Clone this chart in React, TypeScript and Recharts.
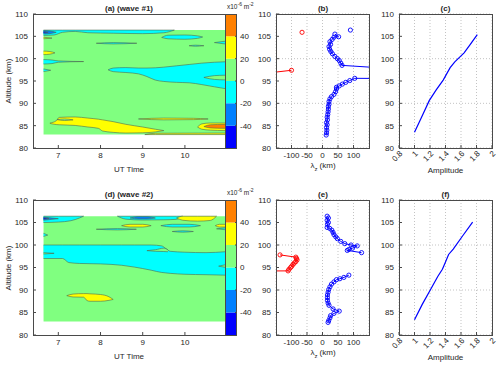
import React from "react";
import {
  Area,
  CartesianGrid,
  ComposedChart,
  Scatter,
  ScatterChart,
  XAxis,
  YAxis,
} from "recharts";

const FONT = "'Liberation Sans', Arial, Helvetica, sans-serif";

// axis ticks
const ALT_TICKS = [80, 85, 90, 95, 100, 105, 110];
const UT_TICKS = [7, 8, 9, 10];
const LAMBDA_TICKS = [-100, -50, 0, 50, 100];
const AMP_TICKS = [0.8, 1, 1.2, 1.4, 1.6, 1.8, 2];
const CBAR_LEVELS = [-60, -40, -20, 0, 20, 40, 60];
const CBAR_TICKS = [-40, -20, 0, 20, 40];

// jet(6) contour levels
const LEVEL_COLORS = ["#0000ff", "#0080ff", "#00ffff", "#80ff80", "#ffff00", "#ff8000"];
const CONTOUR_LINE = "#4f6a4f";

// contour regions, rows are [UT, lower alt, upper alt]
const DATA_BOX = [
  [6.65, 83, 106.4],
  [10.95, 83, 106.4],
];

// ---- wave #1
const A_CYAN_TOP = [
  [6.65, 105.2, 106.4],
  [6.9, 105.3, 106.4],
  [7.1, 105.9, 106.4],
  [7.4, 106.1, 106.4],
  [7.7, 105.8, 106.4],
  [8.3, 105.7, 106.4],
  [9.0, 105.6, 106.4],
  [9.5, 105.8, 106.4],
  [9.75, 106.4, 106.4],
];
const A_BLUE_TOP = [
  [6.65, 105.5, 106.3],
  [6.8, 105.6, 106.2],
  [6.95, 105.9, 105.9],
];
const A_DBLUE_TOP = [
  [6.65, 105.75, 106.1],
  [6.76, 105.92, 105.92],
];
const A_YEL_104 = [
  [6.65, 104.45, 104.8],
  [6.85, 104.6, 104.6],
];
const A_CYAN_105R = [
  [9.45, 104.75, 104.75],
  [9.6, 104.45, 105.25],
  [10.0, 104.35, 105.3],
  [10.3, 104.55, 105.1],
  [10.42, 104.85, 104.85],
];
const A_CYAN_103 = [
  [7.9, 103.45, 103.45],
  [8.3, 103.3, 103.6],
  [8.86, 103.45, 103.45],
];
const A_CYAN_102 = [
  [10.1, 102.9, 102.9],
  [10.25, 102.78, 103.02],
  [10.45, 102.9, 102.9],
];
const A_CYAN_EDGE = [
  [10.7, 103.6, 103.6],
  [10.95, 103.3, 103.9],
];
const A_YEL_101 = [
  [6.65, 100.9, 101.7],
  [6.8, 101.0, 101.6],
  [6.92, 101.3, 101.3],
];
const A_CYAN_99 = [
  [6.65, 98.8, 99.8],
  [6.85, 98.9, 99.7],
  [7.0, 99.2, 99.5],
  [7.6, 99.35, 99.35],
];
const A_CYAN_97 = [
  [6.65, 97.1, 97.7],
  [6.82, 97.4, 97.4],
];
const A_CYAN_BIG = [
  [8.18, 97.5, 97.5],
  [8.3, 97.1, 97.9],
  [8.6, 96.9, 98.0],
  [8.9, 96.6, 97.9],
  [9.1, 96.0, 97.9],
  [9.3, 95.2, 97.95],
  [9.5, 94.9, 98.1],
  [9.8, 94.7, 98.4],
  [10.1, 94.6, 98.7],
  [10.4, 94.2, 99.0],
  [10.7, 93.7, 99.2],
  [10.95, 93.3, 99.3],
];
const A_GREEN_96 = [
  [10.45, 95.8, 95.8],
  [10.7, 95.35, 96.2],
  [10.95, 95.25, 96.3],
];
const A_YEL_MAIN = [
  [6.8, 85.5, 85.6],
  [6.95, 85.25, 86.1],
  [7.02, 85.2, 86.85],
  [7.4, 85.05, 86.95],
  [7.7, 84.7, 86.7],
  [7.95, 84.4, 86.45],
  [8.05, 83.8, 86.3],
  [8.3, 83.5, 85.9],
  [8.6, 83.35, 85.3],
  [9.0, 83.4, 84.7],
  [9.3, 83.6, 84.2],
  [9.5, 83.9, 83.9],
];
const A_GREEN_NOTCH = [
  [6.97, 86.35, 86.35],
  [7.15, 86.15, 86.5],
  [7.35, 86.3, 86.3],
];
const A_YEL_STRIP = [
  [9.05, 83.0, 83.0],
  [9.3, 83.0, 83.3],
  [10.95, 83.0, 83.35],
];
const A_YEL_86 = [
  [8.9, 86.5, 86.5],
  [9.5, 86.3, 86.7],
  [10.2, 86.35, 86.65],
  [10.55, 86.5, 86.5],
];
const A_YEL_85R = [
  [10.3, 84.7, 84.7],
  [10.4, 84.2, 85.4],
  [10.6, 84.0, 85.6],
  [10.95, 83.9, 85.6],
];
const A_ORANGE = [
  [10.45, 84.8, 84.8],
  [10.6, 84.5, 85.2],
  [10.95, 84.4, 85.3],
];

// ---- wave #2
const D_CYAN_TOPL = [
  [6.65, 105.0, 106.4],
  [7.0, 105.1, 106.4],
  [7.3, 105.4, 106.4],
  [7.5, 106.0, 106.4],
  [7.6, 106.4, 106.4],
];
const D_BLUE_TOPL = [
  [6.65, 105.5, 106.2],
  [6.85, 105.7, 106.0],
  [7.0, 105.85, 105.85],
];
const D_DBLUE_TOPL = [
  [6.65, 105.7, 106.05],
  [6.78, 105.88, 105.88],
];
const D_CYAN_TOPM = [
  [8.4, 106.4, 106.4],
  [8.6, 105.75, 106.4],
  [9.0, 105.55, 106.4],
  [9.5, 105.6, 106.4],
  [9.8, 105.7, 106.4],
  [9.95, 106.4, 106.4],
];
const D_BLUE_TOPM = [
  [8.7, 106.0, 106.0],
  [8.9, 105.8, 106.3],
  [9.1, 105.8, 106.3],
  [9.3, 106.0, 106.0],
];
const D_YEL_TOPR = [
  [9.8, 106.0, 106.0],
  [9.95, 105.5, 106.4],
  [10.3, 105.3, 106.4],
  [10.6, 105.45, 106.4],
  [10.75, 106.4, 106.4],
];
const D_YEL_104 = [
  [8.5, 104.3, 104.3],
  [8.7, 104.0, 104.6],
  [9.0, 104.0, 104.6],
  [9.2, 104.3, 104.3],
];
const D_CYAN_103 = [
  [7.9, 103.5, 103.5],
  [8.4, 103.35, 103.65],
  [8.85, 103.5, 103.5],
];
const D_CYAN_104R = [
  [9.43, 104.3, 104.3],
  [9.7, 104.0, 104.6],
  [10.1, 104.0, 104.6],
  [10.37, 104.3, 104.3],
];
const D_CYAN_102R = [
  [9.7, 103.0, 103.0],
  [9.95, 102.85, 103.15],
  [10.2, 103.0, 103.0],
];
const D_YEL_EDGE = [
  [10.72, 104.3, 104.3],
  [10.82, 104.0, 104.6],
  [10.95, 104.0, 104.6],
];
const D_CYAN_EDGE = [
  [10.75, 103.6, 103.6],
  [10.95, 103.4, 103.8],
];
const D_CYAN_102L = [
  [6.65, 101.9, 102.6],
  [6.75, 102.2, 102.2],
];
const D_CYAN_BIG = [
  [6.65, 97.0, 100.0],
  [7.1, 97.0, 100.0],
  [7.25, 96.1, 100.0],
  [7.5, 95.9, 100.0],
  [8.0, 95.8, 100.0],
  [8.5, 95.5, 100.0],
  [8.8, 95.1, 100.0],
  [9.2, 94.4, 100.0],
  [9.45, 93.9, 99.8],
  [9.55, 93.8, 99.2],
  [9.65, 93.7, 98.6],
  [10.0, 93.5, 98.4],
  [10.5, 93.4, 98.3],
  [10.95, 93.3, 98.5],
];
const D_GREEN_TONGUE = [
  [9.1, 98.75, 98.75],
  [9.3, 98.6, 98.95],
  [9.5, 98.55, 99.3],
  [9.6, 98.5, 98.9],
];
const D_GREEN_98 = [
  [6.65, 98.0, 98.3],
  [6.9, 98.15, 98.15],
];
const D_GREEN_95 = [
  [10.8, 95.3, 95.3],
  [10.95, 95.05, 95.6],
];
const D_YEL_89 = [
  [7.2, 88.75, 88.75],
  [7.35, 88.45, 89.1],
  [7.6, 88.4, 89.2],
  [7.68, 87.65, 89.2],
  [7.75, 87.5, 89.15],
  [8.0, 87.5, 89.0],
  [8.2, 87.7, 88.5],
  [8.3, 87.9, 87.9],
];

// [region, level index]
const WAVE1_LAYERS: [number[][], number][] = [
  [DATA_BOX, 3],
  [A_CYAN_TOP, 2],
  [A_BLUE_TOP, 1],
  [A_DBLUE_TOP, 0],
  [A_YEL_104, 4],
  [A_CYAN_105R, 2],
  [A_CYAN_103, 2],
  [A_CYAN_102, 2],
  [A_CYAN_EDGE, 2],
  [A_YEL_101, 4],
  [A_CYAN_99, 2],
  [A_CYAN_97, 2],
  [A_CYAN_BIG, 2],
  [A_GREEN_96, 3],
  [A_YEL_MAIN, 4],
  [A_GREEN_NOTCH, 3],
  [A_YEL_STRIP, 4],
  [A_YEL_86, 4],
  [A_YEL_85R, 4],
  [A_ORANGE, 5],
];

const WAVE2_LAYERS: [number[][], number][] = [
  [DATA_BOX, 3],
  [D_CYAN_TOPL, 2],
  [D_BLUE_TOPL, 1],
  [D_DBLUE_TOPL, 0],
  [D_CYAN_TOPM, 2],
  [D_BLUE_TOPM, 1],
  [D_YEL_TOPR, 4],
  [D_YEL_104, 4],
  [D_CYAN_103, 2],
  [D_CYAN_104R, 2],
  [D_CYAN_102R, 2],
  [D_YEL_EDGE, 4],
  [D_CYAN_EDGE, 2],
  [D_CYAN_102L, 2],
  [D_CYAN_BIG, 2],
  [D_GREEN_TONGUE, 3],
  [D_GREEN_98, 3],
  [D_GREEN_95, 3],
  [D_YEL_89, 4],
];

// vertical wavelength profiles, rows are [lambda_z km, alt km]
const B_RED_DOT = [[-66, 105.9]];
const B_RED_LINE = [
  [-200, 96.6],
  [-100, 97.4],
];
const B_BLUE_DOT = [[90, 106.4]];
const B_BLUE_UPPER = [
  [40, 105.5], [52, 104.9], [37, 104.8], [31, 104.3], [24, 103.8], [26, 103.2],
  [21, 102.7], [23, 102.1], [27, 101.6], [32, 101.1], [40, 100.5], [48, 100.0],
  [54, 99.6], [59, 99.0], [63, 98.5], [400, 97.0],
];
const B_BLUE_LOWER = [
  [400, 95.5], [104, 95.6], [88, 95.1], [75, 94.7], [64, 94.3], [54, 93.9],
  [45, 93.6], [45, 93.2], [42, 92.6], [37, 92.0], [29, 91.5], [24, 91.0],
  [21, 90.4], [21, 89.8], [19, 89.3], [19, 88.7], [18, 88.1], [17, 87.5],
  [15, 86.9], [16, 86.3], [13, 85.7], [15, 85.2], [13, 84.6], [14, 84.0],
  [13, 83.4], [12, 82.9],
];

const E_RED_LINE = [
  [-137, 97.8], [-86, 97.3], [-84, 97.0], [-82, 96.7], [-86, 96.3], [-91, 96.0],
  [-95, 95.7], [-99, 95.3], [-103, 95.0], [-108, 94.6], [-111, 94.25], [-300, 94.2],
];
const E_BLUE_UPPER = [
  [15, 106.4], [19, 106.0], [15, 105.5], [19, 105.0], [16, 104.6], [15, 103.9],
  [23, 103.7], [30, 103.3], [34, 102.8], [37, 102.3], [43, 101.8], [48, 101.4],
  [59, 100.8], [72, 100.3], [92, 100.0], [112, 99.8], [97, 99.3], [85, 99.0],
  [80, 98.8], [126, 98.3],
];
const E_BLUE_LOWER = [
  [85, 93.3], [69, 92.8], [56, 92.5], [45, 92.3], [37, 91.8], [29, 91.3],
  [24, 90.7], [20, 90.1], [18, 89.5], [16, 88.9], [16, 88.3], [16, 87.7],
  [18, 87.1], [21, 86.6], [34, 85.8], [54, 85.3], [37, 84.8], [26, 84.3],
  [24, 83.8], [20, 83.2], [18, 82.8],
];

// amplitude profiles, rows are [amplitude, alt km]
const C_AMP = [
  [1.0, 83.5], [1.1, 87.2], [1.19, 90.6], [1.28, 93.0], [1.37, 95.2],
  [1.46, 98.0], [1.52, 99.3], [1.64, 101.3], [1.72, 103.2], [1.81, 105.4],
];
const F_AMP = [
  [1.0, 83.4], [1.1, 86.8], [1.2, 89.9], [1.3, 93.0], [1.36, 94.6],
  [1.4, 96.2], [1.44, 97.9], [1.5, 99.1], [1.62, 102.0], [1.75, 105.1],
];

const TICK = { fontSize: 8, fill: "#262626", fontFamily: FONT };
const FRAME = "#4a4a4a";
const GRID = "#b4b4b4";

const ROWS = [
  { y: 14, h: 134 },
  { y: 200, h: 135 },
];

const toXY = (rows: number[][]) => rows.map(([x, y]) => ({ x, y }));

function Txt({ x, y, children, bold, rot, size = 8 }: any) {
  return (
    <div
      style={{
        position: "absolute",
        left: x,
        top: y,
        transform: `translate(-50%, -50%)${rot ? ` rotate(${rot}deg)` : ""}`,
        fontFamily: FONT,
        fontSize: size,
        fontWeight: bold ? 700 : 400,
        color: "#262626",
        whiteSpace: "nowrap",
        lineHeight: 1,
      }}
    >
      {children}
    </div>
  );
}

function Box({ x, y, w, h }: any) {
  return (
    <div
      style={{
        position: "absolute",
        left: x,
        top: y,
        width: w,
        height: h,
        border: `1px solid ${FRAME}`,
        boxSizing: "border-box",
        pointerEvents: "none",
      }}
    />
  );
}

function ContourPanel({ row, layers }: any) {
  const { y, h } = row;
  return (
    <div style={{ position: "absolute", left: 0, top: y - 14 }}>
      <ComposedChart
        width={225}
        height={14 + h + 30}
        margin={{ top: 14, right: 0, bottom: 0, left: 0 }}
      >
        <XAxis
          type="number"
          dataKey="t"
          domain={[6.4, 10.95]}
          ticks={UT_TICKS}
          allowDataOverflow
          height={30}
          axisLine={false}
          tickSize={-3}
          tickMargin={7}
          stroke={FRAME}
          tick={TICK}
        />
        <YAxis
          type="number"
          domain={[80, 110]}
          ticks={ALT_TICKS}
          allowDataOverflow
          width={33}
          axisLine={false}
          tickSize={-3}
          tickMargin={8}
          stroke={FRAME}
          tick={TICK}
        />
        {layers.map(([region, lvl]: [number[][], number], i: number) => (
          <Area
            key={i}
            data={region.map(([t, lo, hi]) => ({ t, r: [lo, hi] }))}
            dataKey="r"
            type="monotone"
            fill={LEVEL_COLORS[lvl]}
            fillOpacity={1}
            stroke={i === 0 ? "none" : CONTOUR_LINE}
            strokeWidth={0.6}
            dot={false}
            activeDot={false}
            isAnimationActive={false}
          />
        ))}
      </ComposedChart>
    </div>
  );
}

function ColorBar({ row }: any) {
  const { y, h } = row;
  return (
    <div style={{ position: "absolute", left: 226, top: y - 14 }}>
      <ComposedChart
        width={41}
        height={14 + h + 30}
        margin={{ top: 14, right: 0, bottom: 30, left: 0 }}
      >
        <XAxis type="number" dataKey="x" domain={[0, 1]} hide />
        <YAxis
          type="number"
          orientation="right"
          domain={[-60, 60]}
          ticks={CBAR_TICKS}
          allowDataOverflow
          width={30}
          axisLine={false}
          tickSize={-2}
          tickMargin={5}
          stroke={FRAME}
          tick={TICK}
        />
        {LEVEL_COLORS.map((c, i) => (
          <Area
            key={i}
            data={[
              { x: 0, r: [CBAR_LEVELS[i], CBAR_LEVELS[i + 1]] },
              { x: 1, r: [CBAR_LEVELS[i], CBAR_LEVELS[i + 1]] },
            ]}
            dataKey="r"
            type="linear"
            fill={c}
            fillOpacity={1}
            stroke="none"
            dot={false}
            activeDot={false}
            isAnimationActive={false}
          />
        ))}
      </ComposedChart>
    </div>
  );
}

const openCircle = (color: string) => (p: any) =>
  (
    <circle
      cx={p.cx}
      cy={p.cy}
      r={2.1}
      fill="none"
      stroke={color}
      strokeWidth={0.9}
    />
  );
const noMark = () => <g />;

function ProfilePanel({ row, left, xDomain, xTicks, rotate, series }: any) {
  const { y, h } = row;
  return (
    <div style={{ position: "absolute", left: left - 30, top: y - 14 }}>
      <ScatterChart
        width={30 + 93 + 8}
        height={14 + h + 30}
        margin={{ top: 14, right: 8, bottom: 0, left: 0 }}
      >
        <CartesianGrid stroke={GRID} strokeDasharray="1 2" strokeWidth={0.8} />
        <XAxis
          type="number"
          dataKey="x"
          domain={xDomain}
          ticks={xTicks}
          allowDataOverflow
          height={30}
          axisLine={false}
          tickSize={-3}
          tickMargin={rotate ? 5 : 7}
          stroke={FRAME}
          angle={rotate ? -45 : 0}
          tick={rotate ? { ...TICK, textAnchor: "end" } : TICK}
          interval={0}
        />
        <YAxis
          type="number"
          dataKey="y"
          domain={[80, 110]}
          ticks={ALT_TICKS}
          allowDataOverflow
          width={30}
          axisLine={false}
          tickSize={-3}
          tickMargin={8}
          stroke={FRAME}
          tick={TICK}
        />
        {series.map((s: any, i: number) => (
          <Scatter
            key={i}
            data={toXY(s.data)}
            fill={s.color}
            line={s.line ? { stroke: s.color, strokeWidth: s.marks ? 1 : 1.2 } : false}
            lineType="joint"
            shape={s.marks ? openCircle(s.color) : noMark}
            isAnimationActive={false}
          />
        ))}
      </ScatterChart>
    </div>
  );
}

const RED = "#ff0000";
const BLUE = "#0000ff";

export default function App() {
  const lambdaLabel = (
    <span>
      λ<sub style={{ fontSize: 6 }}>z</sub> (km)
    </span>
  );
  const units = (
    <span>
      x10<sup style={{ fontSize: 5 }}>-6</sup> m<sup style={{ fontSize: 5 }}>-2</sup>
    </span>
  );
  return (
    <div
      style={{
        position: "absolute",
        left: 0,
        top: 0,
        width: 500,
        height: 366,
        background: "#fff",
        overflow: "hidden",
      }}
    >
      {ROWS.map((row, k) => (
        <React.Fragment key={k}>
          <ContourPanel row={row} layers={k === 0 ? WAVE1_LAYERS : WAVE2_LAYERS} />
          <ColorBar row={row} />
          <ProfilePanel
            row={row}
            left={276}
            xDomain={[-150, 150]}
            xTicks={LAMBDA_TICKS}
            series={
              k === 0
                ? [
                    { data: B_RED_DOT, color: RED, marks: true },
                    { data: B_RED_LINE, color: RED, marks: true, line: true },
                    { data: B_BLUE_DOT, color: BLUE, marks: true },
                    { data: B_BLUE_UPPER, color: BLUE, marks: true, line: true },
                    { data: B_BLUE_LOWER, color: BLUE, marks: true, line: true },
                  ]
                : [
                    { data: E_RED_LINE, color: RED, marks: true, line: true },
                    { data: E_BLUE_UPPER, color: BLUE, marks: true, line: true },
                    { data: E_BLUE_LOWER, color: BLUE, marks: true, line: true },
                  ]
            }
          />
          <ProfilePanel
            row={row}
            left={399}
            xDomain={[0.8, 2]}
            xTicks={AMP_TICKS}
            rotate
            series={[{ data: k === 0 ? C_AMP : F_AMP, color: BLUE, line: true }]}
          />
          <Box x={33} y={row.y} w={193} h={row.h + 1} />
          <Box x={225} y={row.y} w={12} h={row.h + 1} />
          <Box x={276} y={row.y} w={94} h={row.h + 1} />
          <Box x={399} y={row.y} w={94} h={row.h + 1} />
          <Txt x={129} y={row.y - 5} bold>
            {k === 0 ? "(a) (wave #1)" : "(d) (wave #2)"}
          </Txt>
          <Txt x={323} y={row.y - 5} bold>
            {k === 0 ? "(b)" : "(e)"}
          </Txt>
          <Txt x={445.5} y={row.y - 5} bold>
            {k === 0 ? "(c)" : "(f)"}
          </Txt>
          <Txt x={129} y={row.y + row.h + 22}>UT Time</Txt>
          <Txt x={323} y={row.y + row.h + 19}>{lambdaLabel}</Txt>
          <Txt x={445.5} y={row.y + row.h + 23}>Amplitude</Txt>
          <Txt x={9} y={row.y + row.h / 2} rot={-90}>
            Altitude (km)
          </Txt>
          <div
            style={{
              position: "absolute",
              left: 227,
              top: row.y - 12,
              fontFamily: FONT,
              fontSize: 6.5,
              color: "#262626",
              whiteSpace: "nowrap",
              lineHeight: 1,
            }}
          >
            {units}
          </div>
        </React.Fragment>
      ))}
    </div>
  );
}
